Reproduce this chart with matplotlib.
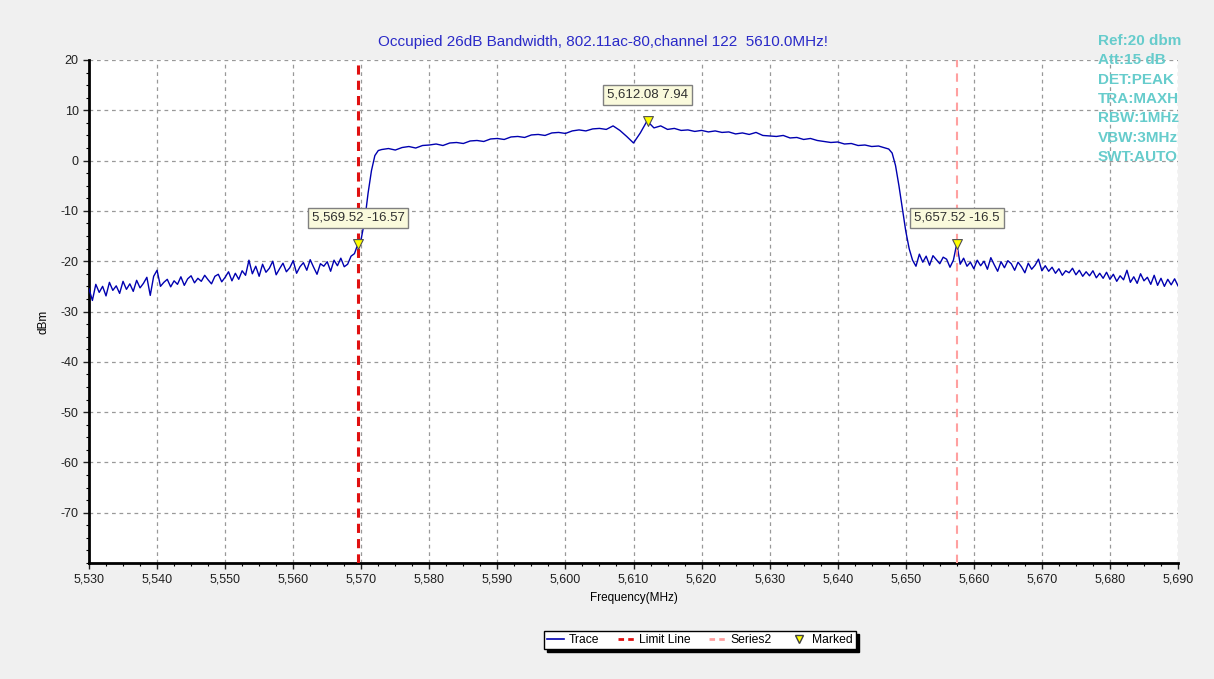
import numpy as np
import matplotlib
matplotlib.use("Agg")
import matplotlib.pyplot as plt
from matplotlib.ticker import MultipleLocator, FuncFormatter
from matplotlib.lines import Line2D

plt.rcParams['font.family'] = ['Liberation Sans', 'DejaVu Sans']
plt.rcParams['axes.unicode_minus'] = False

# Trace levels (dBm)
left_freq = np.arange(5530.0, 5570.0, 0.5)
left_level = [-25.5, -27.8, -24.6, -26.2, -25.0, -26.9, -24.2, -25.8, -24.9, -26.4,
              -24.0, -25.6, -24.5, -26.0, -23.8, -25.3, -24.4, -23.2, -26.8, -23.0,
              -21.8, -25.0, -24.2, -23.6, -25.1, -23.9, -24.6, -23.1, -24.8, -23.5,
              -22.9, -24.3, -23.4, -24.0, -22.8, -23.7, -24.5, -23.0, -22.6, -24.1,
              -23.2, -22.1, -23.9, -22.4, -23.6, -21.9, -22.8, -19.8, -22.5, -21.0,
              -23.0, -20.6, -22.2, -21.4, -20.0, -22.7, -21.5, -20.4, -22.1, -21.3,
              -19.9, -22.4, -21.1, -20.3, -21.8, -19.7, -21.2, -22.6, -20.5, -21.0,
              -20.1, -22.0, -19.8, -20.9, -19.4, -21.1, -20.6, -19.0, -18.5, -16.6]

rise_freq = [5570.0, 5570.5, 5571.0, 5571.5, 5572.0, 5572.5]
rise_level = [-15.5, -12.0, -6.5, -2.0, 1.0, 2.0]

top_freq = np.arange(5573.0, 5648.0, 1.0)
top_level = [2.2, 2.4, 2.1, 2.6, 2.8, 2.5, 3.0, 3.1, 3.3, 3.0,
             3.5, 3.6, 3.4, 3.9, 4.0, 3.8, 4.3, 4.4, 4.2, 4.7,
             4.8, 4.6, 5.1, 5.2, 5.0, 5.5, 5.6, 5.4, 5.9, 6.1,
             5.9, 6.3, 6.4, 6.2, 6.9, 6.0, 4.8, 3.5, 5.5, 7.9,
             6.5, 6.9, 6.2, 6.4, 6.0, 6.1, 5.8, 6.0, 5.7, 5.9,
             5.6, 5.7, 5.3, 5.5, 5.2, 5.6, 5.0, 4.9, 4.8, 5.0,
             4.5, 4.6, 4.2, 4.4, 4.0, 3.8, 3.6, 3.7, 3.3, 3.4,
             3.0, 3.1, 2.8, 2.9, 2.5]

fall_freq = [5647.5, 5648.0, 5648.5, 5649.0, 5649.5, 5650.0, 5650.5, 5651.0]
fall_level = [2.3, 1.5, -1.0, -5.0, -9.5, -14.0, -17.5, -19.8]

right_freq = np.arange(5651.5, 5690.5, 0.5)
right_level = [-21.0, -18.6, -20.2, -19.0, -20.8, -18.9, -19.7, -20.5, -19.2,
               -19.6, -21.2, -19.8, -16.5, -20.6, -19.4, -21.0, -20.2, -21.5,
               -19.8, -20.9, -20.0, -21.6, -19.3, -20.7, -22.0, -20.1, -21.3, -19.9,
               -20.5, -21.8, -20.2, -21.1, -22.3, -20.4, -21.6, -20.8, -19.6, -21.9,
               -20.9, -22.0, -21.2, -22.4, -21.5, -22.8, -21.9, -22.3, -21.4, -22.7,
               -21.8, -23.0, -22.1, -22.9, -21.9, -23.3, -22.4, -23.4, -22.2, -23.6,
               -22.6, -24.0, -22.9, -23.7, -21.8, -24.2, -23.1, -24.4, -22.5, -23.9,
               -23.2, -24.6, -22.8, -24.8, -23.4, -25.0, -23.6, -24.7, -23.5, -24.9]

# markers and limit lines
marker_freq = [5569.52, 5612.08, 5657.52]
marker_level = [-16.57, 7.94, -16.5]
marker_text = ["5,569.52 -16.57", "5,612.08 7.94", "5,657.52 -16.5"]
limit_freq = 5569.52
series2_freq = 5657.52

info_lines = ["Ref:20 dbm", "Att:15 dB", "DET:PEAK", "TRA:MAXH",
              "RBW:1MHz", "VBW:3MHz", "SWT:AUTO"]

freq = np.concatenate([left_freq, rise_freq, top_freq, fall_freq, right_freq])
level = np.concatenate([left_level, rise_level, top_level, fall_level, right_level])

fig = plt.figure(figsize=(12.14, 6.79), dpi=100, facecolor='#f0f0f0')
ax = fig.add_axes([89 / 1214, 1 - 563 / 679, (1178 - 89) / 1214, (563 - 60) / 679])
ax.set_facecolor('white')

ax.plot(freq, level, color='#0000b0', lw=1.0, zorder=3)
ax.axvline(limit_freq, color='#e01010', lw=2.2, ls=(0, (3, 2)), zorder=4)
ax.axvline(series2_freq, color='#ffa0a0', lw=1.5, ls=(0, (4, 3)), zorder=4)
ax.scatter(marker_freq, marker_level, marker='v', s=50, c='#ffff00',
           edgecolors='#505050', linewidths=0.8, zorder=6)
for fx, fy, t in zip(marker_freq, marker_level, marker_text):
    ax.annotate(t, (fx, fy), xytext=(0, 26), textcoords='offset pixels',
                ha='center', va='center', fontsize=9.5, color='#303030', zorder=7,
                bbox=dict(boxstyle='square,pad=0.3', fc='#fafadc', ec='#808080', lw=1))

ax.set_xlim(5530, 5690)
ax.set_ylim(-80, 20)
ax.xaxis.set_major_locator(MultipleLocator(10))
ax.xaxis.set_minor_locator(MultipleLocator(2.5))
ax.set_yticks(np.arange(-70, 21, 10))
ax.yaxis.set_minor_locator(MultipleLocator(2.5))
ax.xaxis.set_major_formatter(FuncFormatter(lambda v, p: f"{v:,.0f}"))
ax.grid(True, which='major', color='#999999', ls=(0, (3, 3)), lw=0.9)
ax.tick_params(which='major', length=4, width=1, labelsize=9, colors='#202020')
ax.tick_params(which='minor', length=2.5, width=0.8)
for s in ['top', 'right']:
    ax.spines[s].set_visible(False)
for s in ['left', 'bottom']:
    ax.spines[s].set_linewidth(2)
ax.set_xlabel("Frequency(MHz)", fontsize=8.5, labelpad=5)
ax.set_ylabel("dBm", fontsize=8.5, labelpad=3)
ax.yaxis.set_label_coords(-0.036, 0.48)

fig.text(603 / 1214, 1 - 42 / 679, "Occupied 26dB Bandwidth, 802.11ac-80,channel 122  5610.0MHz!",
         ha='center', va='center', fontsize=11, color='#2a2ac8')
for i, t in enumerate(info_lines):
    fig.text(1098 / 1214, 1 - (41 + 19.3 * i) / 679, t, ha='left', va='center',
             fontsize=11, fontweight='bold', color='#66cccc')

handles = [Line2D([], [], color='#0000b0', lw=1.2),
           Line2D([], [], color='#e01010', lw=2, ls=(0, (2, 1.5))),
           Line2D([], [], color='#ffa0a0', lw=2, ls=(0, (2, 1.5))),
           Line2D([], [], color='none', marker='v', markersize=6,
                  markerfacecolor='#ffff00', markeredgecolor='#404040')]
leg = fig.legend(handles, ["Trace", "Limit Line", "Series2", "Marked"], ncol=4,
                 loc='center', bbox_to_anchor=(700 / 1214, 1 - 640 / 679),
                 fontsize=8.7, frameon=True, fancybox=False, shadow={'color': 'black', 'alpha': 1},
                 handlelength=1.4, handletextpad=0.4, columnspacing=1.5,
                 borderpad=0.25, edgecolor='black')
leg.get_frame().set_linewidth(1)

fig.savefig("out.png", dpi=100, facecolor=fig.get_facecolor())
